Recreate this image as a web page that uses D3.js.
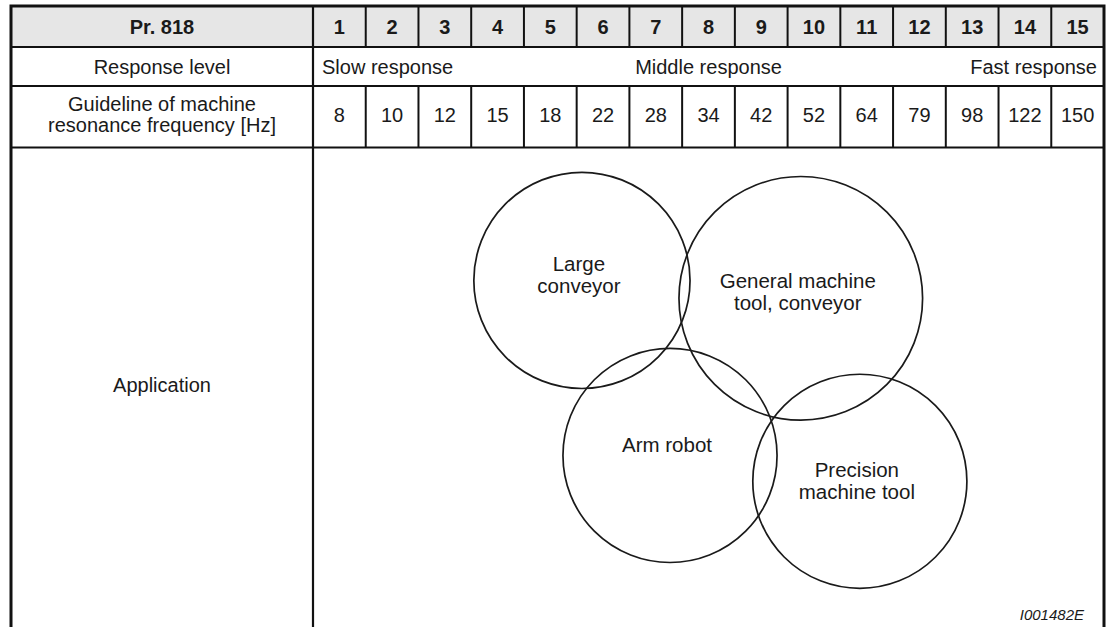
<!DOCTYPE html>
<html>
<head>
<meta charset="utf-8">
<script src="https://cdn.jsdelivr.net/npm/d3@7"></script>
<style>
  html, body { margin: 0; padding: 0; background: #fff; }
  svg { display: block; }
  text { font-family: "Liberation Sans", Arial, Helvetica, sans-serif; fill: #1a1a1a; }
</style>
</head>
<body>
<svg id="chart" width="1107" height="627"></svg>
<script>
// ---- data ----
const levels = [1, 2, 3, 4, 5, 6, 7, 8, 9, 10, 11, 12, 13, 14, 15];
const headerLabel = "Pr. 818";
const responseRowLabel = "Response level";
const responseLabels = ["Slow response", "Middle response", "Fast response"];
const freqRowLabel = ["Guideline of machine", "resonance frequency [Hz]"];
const frequencies = [8, 10, 12, 15, 18, 22, 28, 34, 42, 52, 64, 79, 98, 122, 150];
const applicationRowLabel = "Application";
const appNames = [["Large", "conveyor"], ["General machine", "tool, conveyor"], ["Arm robot"], ["Precision", "machine tool"]];
const appLevel = [5.60, 9.75, 7.27, 10.87];   // circle centre on the Pr. 818 axis
const appDepth = [2.52, 2.86, 5.84, 6.33];    // centre depth below the row top, in column units
const appRadius = [2.05, 2.31, 2.03, 2.03];   // radius, in column units
const labelShift = [-0.11, -0.13, -0.21, 0.0]; // label centre offset from circle centre, column units
const figureId = "I001482E";

// ---- layout ----
const W = 1107, H = 627;
const left = 11, divX = 313, right = 1104;
const rowY = [6, 47, 86, 147.5, H + 5];
const svg = d3.select("#chart");

const x = d3.scaleBand().domain(levels).range([divX, right]);
const xl = d3.scaleLinear().domain([0.5, 15.5]).range([divX, right]);
const unit = x.bandwidth();
const yApp = d3.scaleLinear().domain([0, 1]).range([rowY[3], rowY[3] + unit]);

// header fill
svg.append("rect").attr("x", left).attr("y", rowY[0]).attr("width", right - left).attr("height", rowY[1] - rowY[0]).attr("fill", "#e6e6e6");

const lines = svg.append("g").attr("stroke", "#111").attr("fill", "none");
// horizontal row separators
[rowY[1], rowY[2], rowY[3]].forEach(y => {
  lines.append("line").attr("x1", left).attr("x2", right).attr("y1", y).attr("y2", y).attr("stroke-width", 2.2);
});
// column separators in header row and frequency row
const inner = levels.slice(1);
[[rowY[0], rowY[1]], [rowY[2], rowY[3]]].forEach(([y1, y2]) => {
  lines.selectAll(null).data(inner).enter().append("line")
    .attr("x1", d => x(d)).attr("x2", d => x(d))
    .attr("y1", y1).attr("y2", y2).attr("stroke-width", 2);
});
// left column divider
lines.append("line").attr("x1", divX).attr("x2", divX).attr("y1", rowY[0]).attr("y2", rowY[4]).attr("stroke-width", 2.2);
// outer frame (open at the bottom)
lines.append("path")
  .attr("d", `M${left},${rowY[4]} L${left},${rowY[0]} L${right},${rowY[0]} L${right},${rowY[4]}`)
  .attr("stroke-width", 3);

const fs = 20;
const midLeft = (left + divX) / 2;

// header row
svg.append("text").attr("x", midLeft).attr("y", (rowY[0] + rowY[1]) / 2).attr("dy", "0.35em")
  .attr("text-anchor", "middle").attr("font-weight", "bold").attr("font-size", fs).text(headerLabel);
svg.selectAll(".lv").data(levels).enter().append("text")
  .attr("x", d => x(d) + unit / 2).attr("y", (rowY[0] + rowY[1]) / 2).attr("dy", "0.35em")
  .attr("text-anchor", "middle").attr("font-weight", "bold").attr("font-size", fs).text(d => d);

// response row
const ry = (rowY[1] + rowY[2]) / 2;
svg.append("text").attr("x", midLeft).attr("y", ry).attr("dy", "0.35em")
  .attr("text-anchor", "middle").attr("font-size", fs).text(responseRowLabel);
const anchors = ["start", "middle", "end"];
const ax = [divX + 9, (divX + right) / 2, right - 7];
svg.selectAll(".resp").data(responseLabels).enter().append("text")
  .attr("x", (d, i) => ax[i]).attr("y", ry).attr("dy", "0.35em")
  .attr("text-anchor", (d, i) => anchors[i]).attr("font-size", fs).text(d => d);

// frequency row
const fy = (rowY[2] + rowY[3]) / 2;
const lh = 21;
svg.selectAll(".frl").data(freqRowLabel).enter().append("text")
  .attr("x", midLeft).attr("y", (d, i) => fy - 2.5 + (i - (freqRowLabel.length - 1) / 2) * lh).attr("dy", "0.35em")
  .attr("text-anchor", "middle").attr("font-size", fs).text(d => d);
svg.selectAll(".fq").data(frequencies).enter().append("text")
  .attr("x", (d, i) => x(levels[i]) + unit / 2).attr("y", fy - 2).attr("dy", "0.35em")
  .attr("text-anchor", "middle").attr("font-size", fs).text(d => d);

// application row
svg.append("text").attr("x", midLeft).attr("y", 385).attr("dy", "0.35em")
  .attr("text-anchor", "middle").attr("font-size", fs).text(applicationRowLabel);

const apps = appNames.map((n, i) => ({ name: n, lv: appLevel[i], dp: appDepth[i], r: appRadius[i], sh: labelShift[i] }));
svg.append("g").selectAll("circle").data(apps).enter().append("circle")
  .attr("cx", d => xl(d.lv)).attr("cy", d => yApp(d.dp)).attr("r", d => d.r * unit)
  .attr("fill", "none").attr("stroke", "#1a1a1a").attr("stroke-width", 1.7);

const lg = svg.append("g");
apps.forEach(d => {
  const cx = xl(d.lv) - 3, cy = yApp(d.dp + d.sh);
  d.name.forEach((t, i) => {
    lg.append("text").attr("x", cx).attr("y", cy + (i - (d.name.length - 1) / 2) * 22).attr("dy", "0.35em")
      .attr("text-anchor", "middle").attr("font-size", 20.5).text(t);
  });
});

svg.append("text").attr("x", right - 20).attr("y", 615).attr("dy", "0.35em")
  .attr("text-anchor", "end").attr("font-style", "italic").attr("font-size", 15).text(figureId);
</script>
</body>
</html>
